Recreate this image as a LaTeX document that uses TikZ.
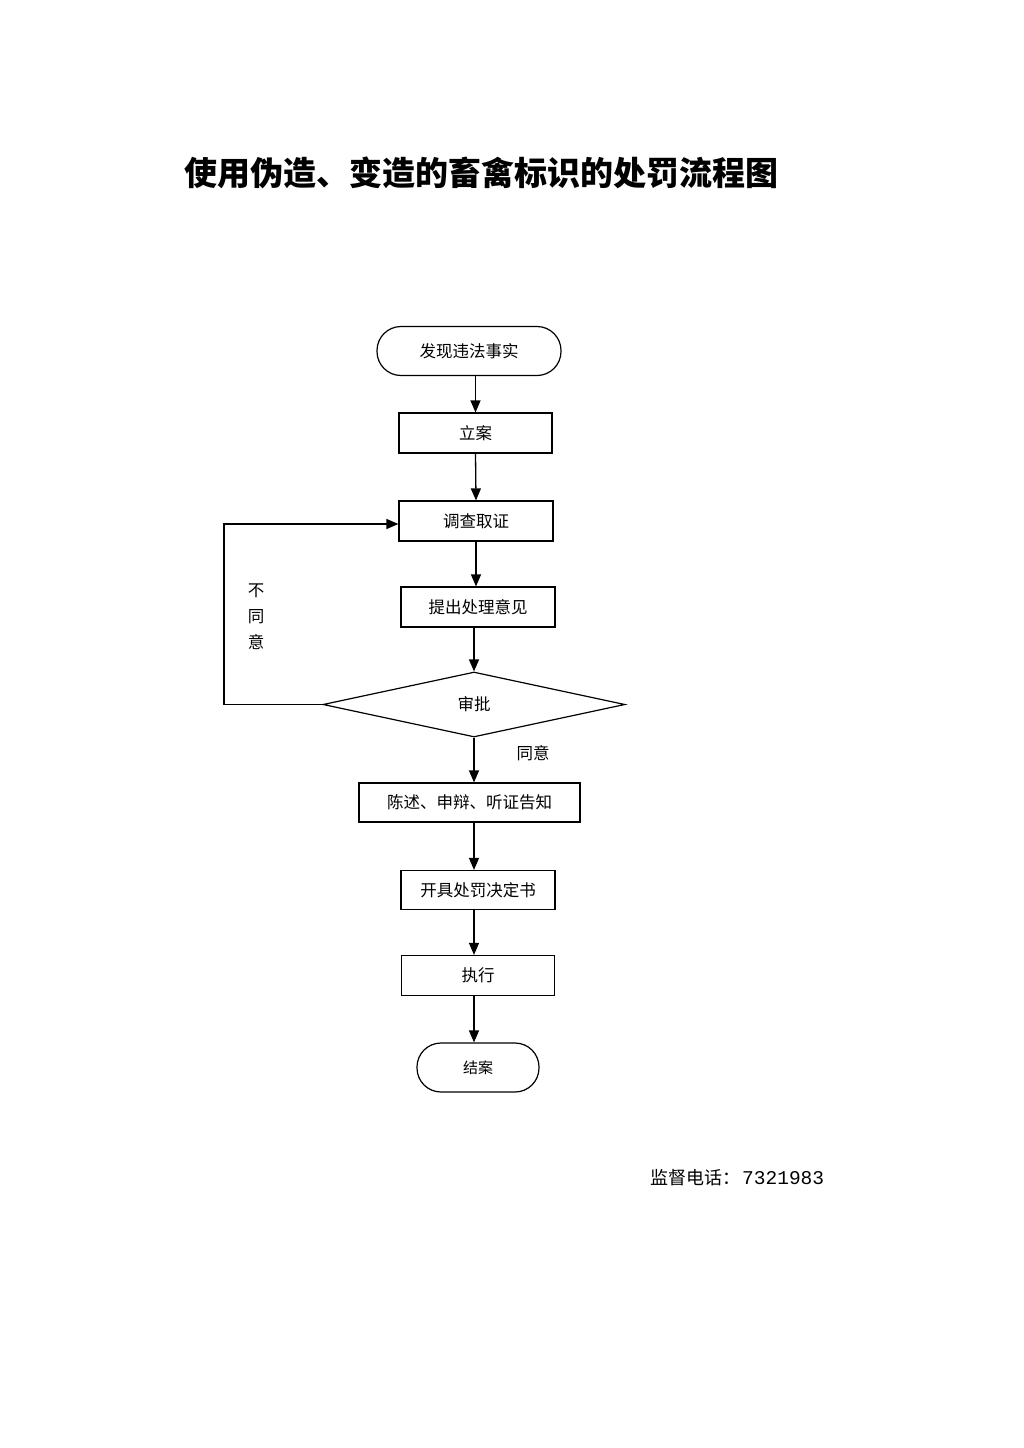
\documentclass[tikz,border=0pt]{standalone}
\usepackage{fontspec}
\setmainfont{Noto Sans CJK SC}
\newfontfamily\cjk{Noto Sans CJK SC}
\newfontfamily\digitfont{Liberation Mono}
\usetikzlibrary{shapes.geometric,arrows.meta}
\begin{document}
\begin{tikzpicture}[x=1pt,y=-1pt,
  every node/.style={inner sep=0pt},
  box/.style={draw,line width=1.2pt,minimum width=154pt,minimum height=40pt,font=\cjk\fontsize{16.5pt}{20pt}\selectfont},
  term/.style={draw,line width=1.2pt,rounded corners=24pt,minimum height=49pt,font=\cjk\fontsize{16.5pt}{20pt}\selectfont},
  decis/.style={draw,diamond,line width=1.2pt,minimum width=302pt,minimum height=65pt,font=\cjk\fontsize{16.5pt}{20pt}\selectfont},
  lab/.style={font=\cjk\fontsize{16.5pt}{26pt}\selectfont,align=center},
  arr/.style={line width=1.3pt,-{Triangle[length=12pt,width=10pt]}}
]
\useasboundingbox (0,0) rectangle (1024,1448);
\fill[white] (0,0) rectangle (1024,1448);

\node[anchor=west,font=\cjk\bfseries\fontsize{33pt}{36pt}\selectfont] (title) at (184,173) {使用伪造、变造的畜禽标识的处罚流程图};

\node[term,minimum width=184pt] (start) at (469,351) {发现违法事实};
\node[box,minimum width=153pt] (n1) at (475.5,433) {立案};
\node[box] (n2) at (476,521) {调查取证};
\node[box] (n3) at (478,607) {提出处理意见};
\node[decis] (dec) at (474,704.5) {审批};
\node[box,minimum width=221pt,minimum height=39pt] (n4) at (469.5,802.5) {陈述、申辩、听证告知};
\node[box,minimum height=39pt] (n5) at (478,890) {开具处罚决定书};
\node[box,minimum width=153pt] (n6) at (478,975.5) {执行};
\node[term,minimum width=122pt,font=\cjk\fontsize{15pt}{18pt}\selectfont] (end) at (478,1067.5) {结案};

\coordinate (fb) at (224,524);
\coordinate (ax) at (474,0);

\draw[arr] (n1.north |- start.south) -- (n1.north);
\draw[arr] (n1.south) -- (n2.north);
\draw[arr] (n2.south) -- (n2.south |- n3.north);
\draw[arr] (dec.north |- n3.south) -- (dec.north);
\draw[arr] (dec.south) -- (dec.south |- n4.north);
\draw[arr] (ax |- n4.south) -- (ax |- n5.north);
\draw[arr] (ax |- n5.south) -- (ax |- n6.north);
\draw[arr] (ax |- n6.south) -- (ax |- end.north);
\draw[arr] (dec.west) -| (fb) -- (fb -| n2.west);

\node[lab] (no) at (256,617) {不\\同\\意};
\node[lab] (yes) at (533,753) {同意};

\node[anchor=west,font=\cjk\fontsize{18pt}{22pt}\selectfont] (tel) at (650,1178) {监督电话：\hspace{2pt}{\digitfont\fontsize{19.5pt}{22pt}\selectfont 7321983}};
\end{tikzpicture}
\end{document}
